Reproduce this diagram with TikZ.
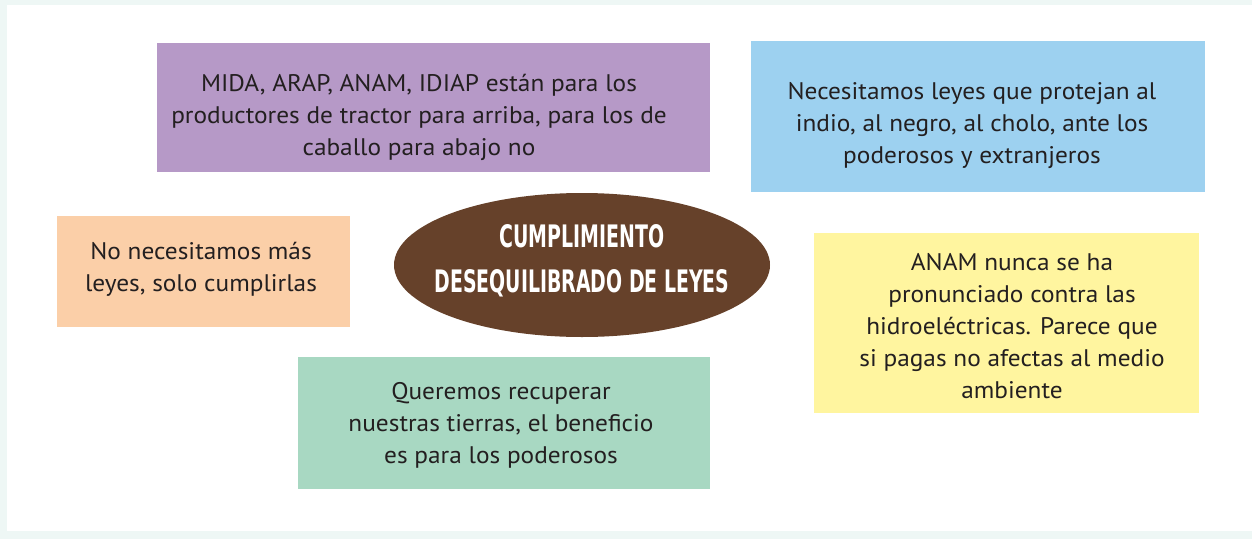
\documentclass[tikz,border=0pt]{standalone}
\usepackage{fontspec}
\usepackage{graphicx}
\setmainfont{PT Sans}[FakeStretch=1.055]
\newfontfamily\titlefont{DejaVu Sans}
\usetikzlibrary{shapes.geometric}
\definecolor{bgmint}{HTML}{EEF7F5}
\definecolor{cpurple}{HTML}{B699C7}
\definecolor{cblue}{HTML}{9DD1F0}
\definecolor{cpeach}{HTML}{FBCFA8}
\definecolor{cyellow}{HTML}{FFF59F}
\definecolor{cgreen}{HTML}{A8D8C2}
\definecolor{cbrown}{HTML}{66412A}
\definecolor{ctext}{HTML}{231F20}
\tikzset{
  boxnode/.style={rectangle, draw=none, inner sep=0pt, outer sep=0pt},
  bodytext/.style={align=center, inner sep=0pt, text=ctext,
    font=\fontsize{18}{24}\selectfont},
  titletext/.style={align=center, inner sep=0pt, text=white,
    font=\titlefont\bfseries\fontsize{20}{33.75}\selectfont},
}
\begin{document}
\begin{tikzpicture}[x=0.75pt,y=-0.75pt]
\useasboundingbox (0,0) rectangle (1252,539);
\fill[bgmint] (0,0) rectangle (1252,539);
\fill[white] (7,5) rectangle (1252,531);
% boxes
\node[boxnode, fill=cpurple, minimum width=414.75pt, minimum height=96.75pt] (purple) at (433.5,107.5) {};
\node[boxnode, fill=cblue, minimum width=340.5pt, minimum height=113.25pt] (blue) at (978,116.5) {};
\node[boxnode, fill=cpeach, minimum width=219.75pt, minimum height=83.25pt] (peach) at (203.5,271.5) {};
\node[boxnode, fill=cyellow, minimum width=288.75pt, minimum height=135pt] (yellow) at (1006.5,323) {};
\node[boxnode, fill=cgreen, minimum width=309pt, minimum height=99pt] (green) at (504,423) {};
\node[ellipse, draw=none, fill=cbrown, inner sep=0pt, minimum width=282pt, minimum height=108pt] (center) at (582,265) {};
% texts
\node[bodytext] (purpletext) at (419,117) {MIDA, ARAP, ANAM, IDIAP están para los\\productores de tractor para arriba, para los de\\caballo para abajo no};
\node[bodytext] (bluetext) at (972,126) {Necesitamos leyes que protejan al\\indio, al negro, al cholo, ante los\\poderosos y extranjeros};
\node[bodytext] (peachtext) at (201,269) {No necesitamos más\\leyes, solo cumplirlas};
\node[bodytext] (yellowtext) at (1012,326) {ANAM nunca se ha\\pronunciado contra las\\hidroeléctricas. Parece que\\si pagas no afectas al medio\\ambiente};
\node[bodytext] (greentext) at (501,425) {Queremos recuperar\\nuestras tierras, el beneficio\\es para los poderosos};
\node[titletext] (title) at (582,261) {\resizebox{123.75pt}{17.25pt}{CUMPLIMIENTO}\\\resizebox{221.25pt}{17.25pt}{DESEQUILIBRADO DE LEYES}};
\end{tikzpicture}
\end{document}
